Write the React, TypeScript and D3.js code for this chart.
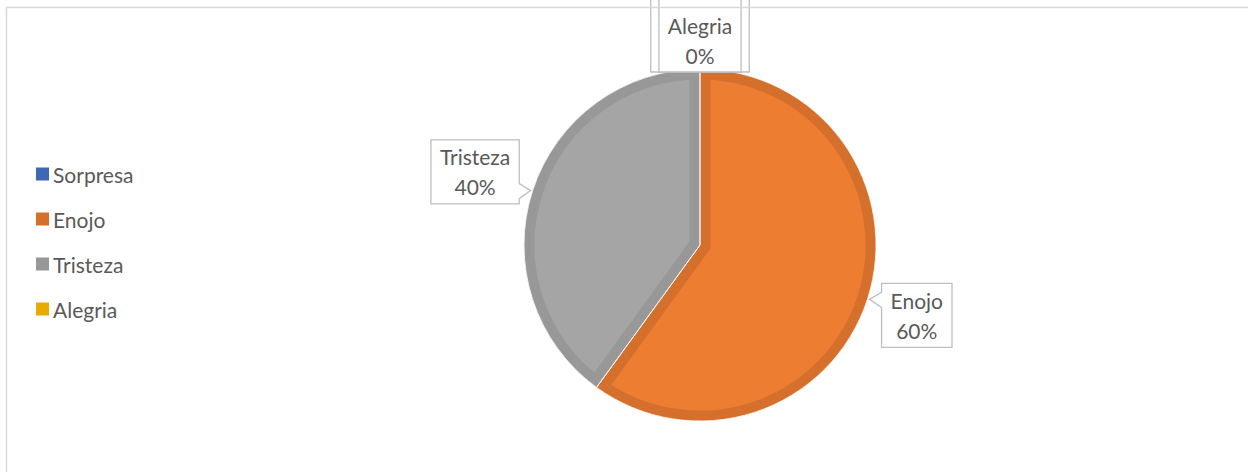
import React from "react";
import * as d3 from "d3";

const categories = ["Sorpresa", "Enojo", "Tristeza", "Alegria"];
const values = [0, 60, 40, 0];
const fillColors = ["#4472C4", "#ED7D31", "#A5A5A5", "#FFC000"];
const edgeColors = ["#3F68B4", "#D5702C", "#989898", "#E6AD00"];

const W = 1248;
const H = 472;
const cx = 700;
const cy = 245;
const R = 176;
const FONT = "Lato, 'Open Sans', sans-serif";
const FS = 21;

function textWidth(s: string) {
  if (typeof document === "undefined") return s.length * 10;
  const c = document.createElement("canvas").getContext("2d")!;
  c.font = `${FS}px ${FONT}`;
  return c.measureText(s).width;
}

export default function App() {
  const total = d3.sum(values);
  const pie = d3
    .pie<number>()
    .sort(null)
    .value((d) => d)
    .startAngle(0)
    .endAngle(2 * Math.PI);
  const arcs = pie(values);
  const arc = d3.arc<d3.PieArcDatum<number>>().innerRadius(0).outerRadius(R);
  const fmt = d3.format(".0%");

  const legendY = d3
    .scalePoint<string>()
    .domain(categories)
    .range([174, 309]);

  const labels = arcs.map((a, i) => {
    const mid = (a.startAngle + a.endAngle) / 2;
    const dx = Math.sin(mid);
    const dy = -Math.cos(mid);
    const ax = cx + dx * R;
    const ay = cy + dy * R;
    const name = categories[i];
    const pct = fmt(values[i] / total);
    const w = Math.max(textWidth(name), textWidth(pct)) + 18;
    const h = 64;
    const dist = Math.abs(dx) * (w / 2 + 10) + Math.abs(dy) * (h / 2 - 3);
    const bx = ax + dx * dist;
    const by = ay + dy * dist;
    const x0 = bx - w / 2;
    const x1 = bx + w / 2;
    const y0 = by - h / 2;
    const y1 = by + h / 2;
    let d: string;
    if (Math.abs(dx) > 0.5) {
      const ny0 = Math.max(y0 + 4, Math.min(y1 - 19, ay - 7));
      const ny1 = ny0 + 15;
      if (dx > 0) {
        d = `M${x0},${y0}H${x1}V${y1}H${x0}V${ny1}L${ax + 2},${ay}L${x0},${ny0}Z`;
      } else {
        d = `M${x0},${y0}H${x1}V${ny0}L${ax - 2},${ay}L${x1},${ny1}V${y1}H${x0}Z`;
      }
    } else {
      d = `M${x0},${y0 - 12}V${y1}H${x1}V${y0 - 12}`;
    }
    return { name, pct, d, bx, by, ax, ay, key: name, hidden: false };
  });
  // a label whose anchor is shared with a later label is covered by it
  labels.forEach((l, i) => {
    for (let j = i + 1; j < labels.length; j++) {
      if (Math.abs(labels[j].ax - l.ax) < 1 && Math.abs(labels[j].ay - l.ay) < 1) l.hidden = true;
    }
  });

  return (
    <svg
      width={W}
      height={H}
      style={{ position: "absolute", left: 0, top: 0, background: "#fff" }}
    >
      <rect x={0} y={0} width={W} height={H} fill="#fff" />
      <defs>
        {arcs.map((a, i) => (
          <clipPath id={`clip${i}`} key={i}>
            <path d={arc(a) || ""} />
          </clipPath>
        ))}
      </defs>
      <g transform={`translate(${cx},${cy})`}>
        {arcs.map((a, i) =>
          a.endAngle - a.startAngle > 0 ? (
            <g key={i}>
              <path d={arc(a) || ""} fill={fillColors[i]} />
              <path
                d={arc(a) || ""}
                fill="none"
                stroke={edgeColors[i]}
                strokeWidth={21}
                strokeLinejoin="miter"
                clipPath={`url(#clip${i})`}
              />
            </g>
          ) : null
        )}
        {arcs.map((a, i) =>
          a.endAngle - a.startAngle > 0 ? (
            <path
              key={"w" + i}
              d={arc(a) || ""}
              fill="none"
              stroke="#ffffff"
              strokeOpacity={0.8}
              strokeWidth={1}
            />
          ) : null
        )}
      </g>
      {labels.map((l) => (
        <g key={l.key}>
          <path d={l.d} fill="#fff" stroke="#BFBFBF" strokeWidth={1.3} />
          {!l.hidden && (
            <>
              <text
                x={l.bx}
                y={l.by - 15}
                textAnchor="middle"
                dominantBaseline="central"
                fontFamily={FONT}
                fontSize={FS}
                fill="#595959"
              >
                {l.name}
              </text>
              <text
                x={l.bx}
                y={l.by + 15}
                textAnchor="middle"
                dominantBaseline="central"
                fontFamily={FONT}
                fontSize={FS}
                fill="#595959"
              >
                {l.pct}
              </text>
            </>
          )}
        </g>
      ))}
      <path d={`M6.5,${H}V7.5H${W}`} fill="none" stroke="#D9D9D9" strokeWidth={1.5} />
      {categories.map((c, i) => (
        <g key={c} transform={`translate(36,${legendY(c)})`}>
          <rect x={0} y={-6.5} width={13} height={13} fill={edgeColors[i]} />
          <text
            x={17}
            y={0}
            dominantBaseline="central"
            fontFamily={FONT}
            fontSize={FS}
            fill="#595959"
          >
            {c}
          </text>
        </g>
      ))}
    </svg>
  );
}
